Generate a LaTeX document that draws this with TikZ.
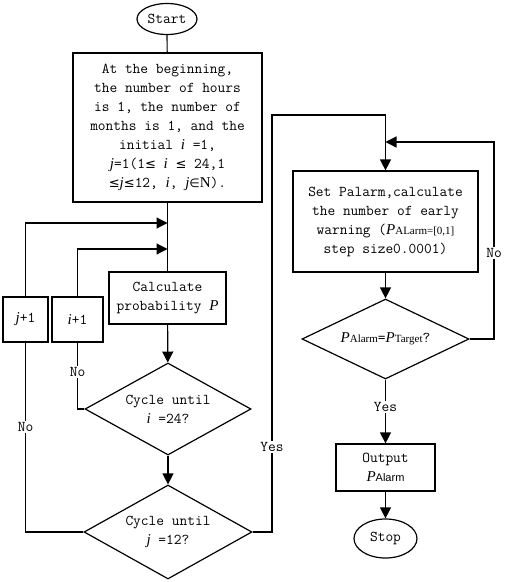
\documentclass[tikz,border=0pt]{standalone}
\usepackage{fontspec}
\newfontfamily\seriffont{Liberation Serif}
\newfontfamily\sansfont{Liberation Sans}
\newfontfamily\symfont{DejaVu Sans}
\usetikzlibrary{shapes.geometric, arrows.meta, positioning}
\newcommand{\flowfont}{\ttfamily\fontsize{15}{19}\selectfont}
\newcommand{\var}[1]{{\seriffont\itshape #1}}
\newcommand{\leqsym}{{\symfont\fontsize{13}{19}\selectfont ≤}}
\newcommand{\insym}{{\symfont\fontsize{12}{19}\selectfont ∈}}
\newcommand{\smalltxt}[1]{{\seriffont\fontsize{11}{19}\selectfont #1}}

\tikzset{
  flow/.style={line width=1.2pt},
  arrow/.style={flow, -{Triangle[length=11pt, width=11pt]}},
  process/.style={draw, line width=1.2pt, align=center, font=\flowfont, inner sep=0pt},
  decision/.style={process, diamond, aspect=1.8},
  terminal/.style={process, ellipse},
  branch/.style={font=\flowfont, fill=white, inner sep=1pt},
}

\begin{document}
\begin{tikzpicture}[x=1pt, y=-1pt]
    \useasboundingbox (0,0) rectangle (505,582);
    % left part: hours and months
    \node[terminal, minimum width=60, minimum height=31] (start) at (167,19) {Start};
    \node[process, minimum width=189, minimum height=149] (init) at (167.5,127.5)
        {At the beginning,\\the number of hours\\is 1, the number of\\months is 1, and the\\initial \var{i} =1,\\
         \var{j}=1(1\leqsym{} \var{i} \leqsym{} 24,1\\\leqsym\var{j}\leqsym12, \var{i}, \var{j}\insym{\seriffont N}).};
    \node[process, minimum width=117, minimum height=52] (calc) at (167.5,298)
        {Calculate\\probability \var{P}};
    \node[process, minimum width=45, minimum height=45] (jstep) at (25.5,319.5) {\var{j}+1};
    \node[process, minimum width=51, minimum height=45] (istep) at (77.5,319.5) {\var{i}+1};
    \node[decision, minimum width=166, minimum height=92] (hours) at (168,409)
        {Cycle until\\\var{i} =24?};
    \node[decision, minimum width=168, minimum height=94] (months) at (168,532)
        {Cycle until\\\var{j} =12?};
    % right part: alarm threshold
    \node[process, minimum width=185, minimum height=101] (alarm) at (385.5,221.5)
        {Set Palarm,calculate\\the number of early\\warning (\var{P}\smalltxt{ALarm=[0,1]}\\step size0.0001)};
    \node[decision, aspect=2.1, minimum width=167, minimum height=80] (check) at (385.5,339)
        {\var{P}\smalltxt{Alarm}=\var{P}\smalltxt{Target}?};
    \node[process, minimum width=99, minimum height=47] (output) at (385.5,467.5)
        {Output\\\var{P}{\sansfont\fontsize{11}{19}\selectfont Alarm}};
    \node[terminal, minimum width=63, minimum height=39] (stop) at (385.5,538.5) {Stop};
    % turning points of the loops
    \coordinate (outerjoin) at (167.5,223);
    \coordinate (innerjoin) at (167.5,249);
    \coordinate (yesturn) at (272,115);
    \coordinate (noturn) at (494,142);
    % connectors
    \draw[flow] (start) -- (init);
    \draw[flow] (init) -- (calc);
    \draw[arrow] (calc) -- (hours);
    \draw[arrow] (hours) -- (months);
    \draw[flow] (hours.west) -| (istep.south);
    \draw[arrow] (istep.north) |- (innerjoin);
    \draw[flow] (months.west) -| (jstep.south);
    \draw[arrow] (jstep.north) |- (outerjoin);
    \draw[arrow] (months.east) -| (yesturn) -| (alarm.north);
    \draw[arrow] (alarm) -- (check);
    \draw[arrow] (check.east) -| (noturn) -- (alarm.north |- noturn);
    \draw[arrow] (check) -- (output);
    \draw[arrow] (output) -- (stop);
    % branch labels
    \node[branch] (inolabel) at (77.5,372) {No};
    \node[branch] (jnolabel) at (25.5,427) {No};
    \node[branch] (monthsyes) at (272,447) {Yes};
    \node[branch] (checkno) at (494,253) {No};
    \node[branch] (checkyes) at (385.5,407) {Yes};
\end{tikzpicture}
\end{document}
